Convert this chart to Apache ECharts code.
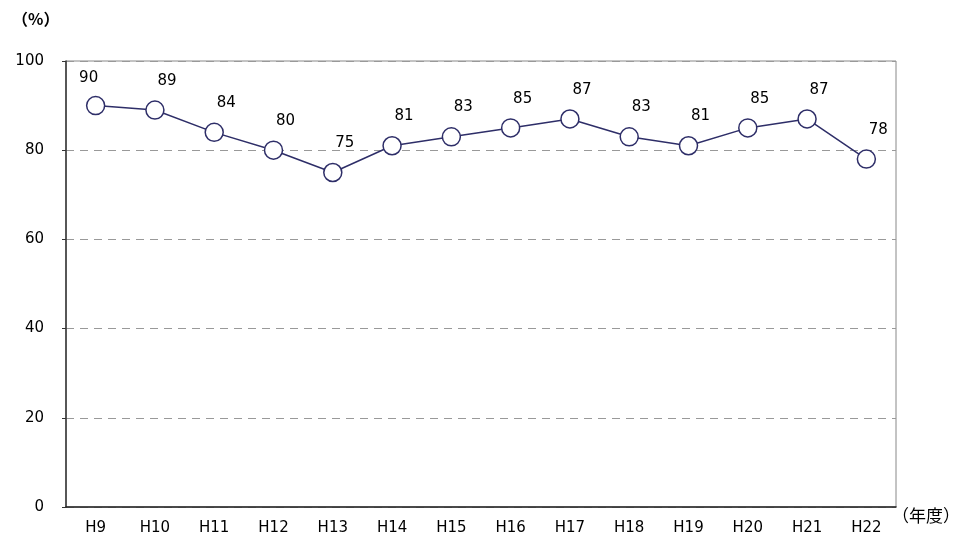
<!DOCTYPE html>
<html lang="ja">
<head>
    <meta charset="UTF-8">
    <title>推移</title>
    <script src="https://cdn.jsdelivr.net/npm/echarts@6/dist/echarts.min.js"></script>
    <style>
        body { margin: 0; background: #fff; }
        #main { width: 955px; height: 545px; }
    </style>
</head>
<body>
<div id="main"></div>
<script type="text/javascript">
    // 年度
    var years = ['H9', 'H10', 'H11', 'H12', 'H13', 'H14', 'H15', 'H16', 'H17', 'H18', 'H19', 'H20', 'H21', 'H22'];
    // 割合 (%)
    var rates = [90, 89, 84, 80, 75, 81, 83, 85, 87, 83, 81, 85, 87, 78];
    var yTicks = [0, 20, 40, 60, 80, 100];

    var font = "'DejaVu Sans', 'Noto Sans CJK JP', sans-serif";
    var jpFont = "'Noto Sans CJK JP', sans-serif";
    var lineColor = '#2e2e68';

    var chart = echarts.init(document.getElementById('main'));

    var points = rates.map(function (v, i) {
        var item = { value: v };
        if (i === 0) {
            // 最初の点だけ枠に近いのでラベルを左寄せ
            item.label = { offset: [-7, -4] };
        }
        return item;
    });

    var option = {
        animation: false,
        grid: {
            left: 66, right: 59, top: 61, bottom: 38,
            show: true, borderColor: '#888', borderWidth: 1
        },
        xAxis: {
            type: 'category',
            data: years,
            boundaryGap: true,
            axisLine: { lineStyle: { color: '#222', width: 1.5 } },
            axisTick: { inside: true, length: 5, lineStyle: { color: '#222' } },
            axisLabel: { color: '#000', fontSize: 15, fontFamily: font, margin: 14 }
        },
        yAxis: {
            type: 'value',
            min: yTicks[0],
            max: yTicks[yTicks.length - 1],
            interval: 20,
            axisLine: { show: true, lineStyle: { color: '#333', width: 1.5 } },
            axisTick: { show: true, length: 4, lineStyle: { color: '#333' } },
            axisLabel: { color: '#000', fontSize: 15, fontFamily: font, margin: 22 },
            splitLine: { lineStyle: { color: '#999', type: [8, 6], width: 1 } }
        },
        graphic: [
            { type: 'text', left: 12, top: 11, style: { text: '（%）', font: 'bold 16px ' + jpFont, fill: '#000' } },
            { type: 'text', left: 892, top: 507, style: { text: '（年度）', font: '17px ' + jpFont, fill: '#000' } }
        ],
        series: [{
            type: 'line',
            data: points,
            symbol: 'circle',
            symbolSize: 18,
            itemStyle: { color: '#fff', borderColor: lineColor, borderWidth: 1.5 },
            lineStyle: { color: lineColor, width: 1.5 },
            label: {
                show: true,
                position: 'top',
                distance: 6,
                offset: [12, -6],
                color: '#000',
                fontSize: 15,
                fontFamily: font
            }
        }]
    };

    chart.setOption(option);
</script>
</body>
</html>
